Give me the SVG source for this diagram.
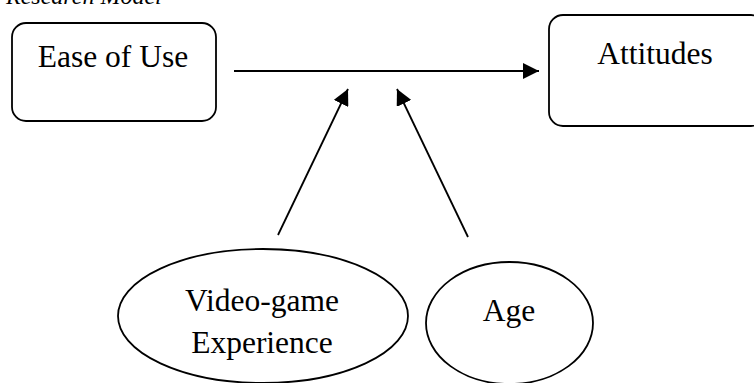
<svg xmlns="http://www.w3.org/2000/svg" width="754" height="383" viewBox="0 0 754 383">
<style>
.box{fill:#fff;stroke:#000;stroke-width:1.8}
.t{font-family:"Liberation Serif","Times New Roman",serif;font-size:31.5px;fill:#000;text-anchor:middle}
.c{stroke:#000;stroke-width:1.8;fill:none}
</style>
<defs>
<marker id="arr" viewBox="0 0 16 16" refX="16" refY="8" markerWidth="16" markerHeight="16" orient="auto" markerUnits="userSpaceOnUse">
<path d="M0,0 L16,8 L0,16 Z" fill="#000"/>
</marker>
</defs>
<rect width="754" height="383" fill="#fff"/>
<text x="6" y="4" font-family="Liberation Serif,serif" font-style="italic" font-size="24" fill="#000">Research Model</text>
<g id="ease">
<rect class="box" x="12" y="23" width="204" height="98" rx="14"/>
<text class="t" x="113" y="67">Ease of Use</text>
</g>
<g id="attitudes">
<rect class="box" x="549" y="15" width="216" height="111" rx="14"/>
<text class="t" x="655" y="64">Attitudes</text>
</g>
<g id="videogame">
<ellipse class="box" cx="263" cy="316" rx="145" ry="67"/>
<text class="t" x="262" y="311">Video-game</text>
<text class="t" x="262" y="353">Experience</text>
</g>
<g id="age">
<ellipse class="box" cx="509.5" cy="323" rx="83.5" ry="61"/>
<text class="t" x="509" y="321">Age</text>
</g>
<g id="connectors">
<line class="c" x1="234" y1="71" x2="539" y2="71" marker-end="url(#arr)"/>
<line class="c" x1="278" y1="235" x2="348" y2="89" marker-end="url(#arr)"/>
<line class="c" x1="468" y1="237" x2="397" y2="89" marker-end="url(#arr)"/>
</g>
</svg>
